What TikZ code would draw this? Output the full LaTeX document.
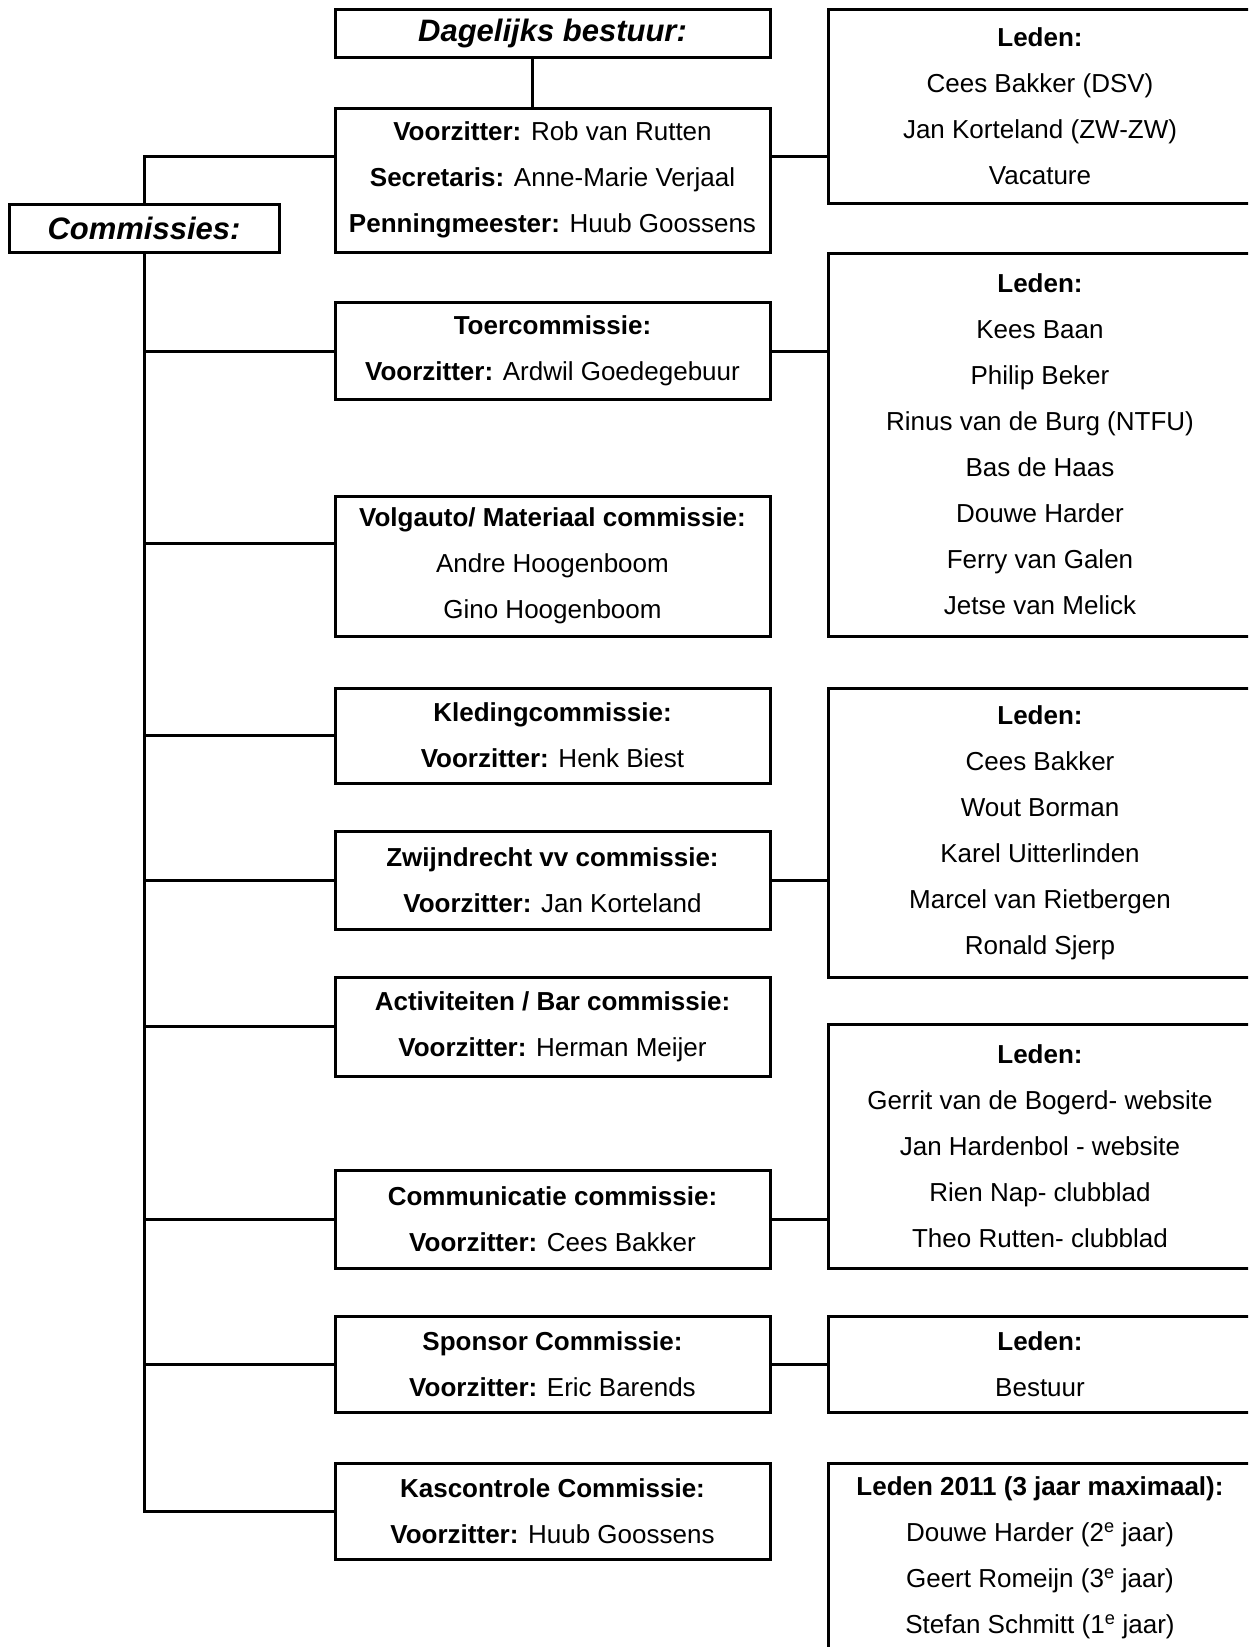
\documentclass[tikz,border=0pt]{standalone}
\usepackage{fontspec}
\setmainfont{Liberation Sans}
\usetikzlibrary{positioning}

\begin{document}
\begin{tikzpicture}[
  x=1pt, y=-1pt,
  b/.style={draw,line width=3pt,align=center,inner sep=0pt,
    font=\fontsize{26}{46}\selectfont},
  head/.style={b,minimum width=435pt,minimum height=48pt,
    font=\fontsize{31}{36}\selectfont\bfseries\itshape},
  cie/.style={b,minimum width=435pt},
  leden/.style={b,minimum width=424pt},
  link/.style={line width=3pt}
]
\useasboundingbox (0,0) rectangle (1248,1647);
\clip (0,0) rectangle (1248,1647);

% bestuur
\node[head] (dagelijks) at (552.5,33) {Dagelijks bestuur:};
\node[cie,minimum height=144pt] (bestuur) at (552.5,180)
  {\textbf{Voorzitter:} Rob van Rutten\\\textbf{Secretaris:} Anne-Marie Verjaal\\
   \textbf{Penningmeester:} Huub Goossens};
\node[head,minimum width=270pt] (commissies) at (144,228) {Commissies:};

% commissies
\node[cie,minimum height=97pt] (toer) at (552.5,351)
  {\textbf{Toercommissie:}\\\textbf{Voorzitter:} Ardwil Goedegebuur};
\node[cie,minimum height=140pt] (volgauto) at (552.5,566)
  {\textbf{Volgauto/ Materiaal commissie:}\\Andre Hoogenboom\\Gino Hoogenboom};
\node[cie,minimum height=95pt] (kleding) at (552.5,735.5)
  {\textbf{Kledingcommissie:}\\\textbf{Voorzitter:} Henk Biest};
\node[cie,minimum height=98pt] (zwijndrecht) at (552.5,880)
  {\textbf{Zwijndrecht vv commissie:}\\\textbf{Voorzitter:} Jan Korteland};
\node[cie,minimum height=99pt] (activiteiten) at (552.5,1026.5)
  {\textbf{Activiteiten / Bar commissie:}\\\textbf{Voorzitter:} Herman Meijer};
\node[cie,minimum height=98pt] (communicatie) at (552.5,1219)
  {\textbf{Communicatie commissie:}\\\textbf{Voorzitter:} Cees Bakker};
\node[cie,minimum height=96pt] (sponsor) at (552.5,1364)
  {\textbf{Sponsor Commissie:}\\\textbf{Voorzitter:} Eric Barends};
\node[cie,minimum height=96pt] (kascontrole) at (552.5,1511)
  {\textbf{Kascontrole Commissie:}\\\textbf{Voorzitter:} Huub Goossens};

% leden
\node[leden,minimum height=194pt] (ledenBestuur) at (1040,106)
  {\textbf{Leden:}\\Cees Bakker (DSV)\\Jan Korteland (ZW-ZW)\\Vacature};
\node[leden,minimum height=383pt] (ledenToer) at (1040,444.5)
  {\textbf{Leden:}\\Kees Baan\\Philip Beker\\Rinus van de Burg (NTFU)\\Bas de Haas\\
   Douwe Harder\\Ferry van Galen\\Jetse van Melick};
\node[leden,minimum height=289pt] (ledenKleding) at (1040,832.5)
  {\textbf{Leden:}\\Cees Bakker\\Wout Borman\\Karel Uitterlinden\\
   Marcel van Rietbergen\\Ronald Sjerp};
\node[leden,minimum height=244pt] (ledenCommunicatie) at (1040,1146)
  {\textbf{Leden:}\\Gerrit van de Bogerd- website\\Jan Hardenbol - website\\
   Rien Nap- clubblad\\Theo Rutten- clubblad};
\node[leden,minimum height=96pt] (ledenSponsor) at (1040,1364)
  {\textbf{Leden:}\\Bestuur};
\node[leden,minimum height=189pt] (ledenKas) at (1040,1557.5)
  {\textbf{Leden 2011 (3 jaar maximaal):}\\Douwe Harder (2\textsuperscript{e} jaar)\\
   Geert Romeijn (3\textsuperscript{e} jaar)\\Stefan Schmitt (1\textsuperscript{e} jaar)};

% lijnen
\coordinate (vzlinks) at ([yshift=24pt]bestuur.west);
\coordinate (vzrechts) at ([yshift=24pt]bestuur.east);
\coordinate (vglinks) at ([yshift=23pt]volgauto.west);
\draw[link] ([xshift=-20pt]dagelijks.south) -- ([xshift=-20pt]bestuur.north);
\draw[link] (commissies.north) |- (vzlinks);
\draw[link] (vzrechts) -- (vzrechts -| ledenBestuur.west);
\draw[link] (commissies.south) |- (kascontrole.west);
\draw[link] (commissies.south |- vglinks) -- (vglinks);
\foreach \c in {toer,kleding,zwijndrecht,activiteiten,communicatie,sponsor}
  \draw[link] (commissies.south |- \c.west) -- (\c.west);
\foreach \c/\l in {toer/ledenToer,zwijndrecht/ledenKleding,
    communicatie/ledenCommunicatie,sponsor/ledenSponsor}
  \draw[link] (\c.east) -- (\c.east -| \l.west);
\end{tikzpicture}
\end{document}
